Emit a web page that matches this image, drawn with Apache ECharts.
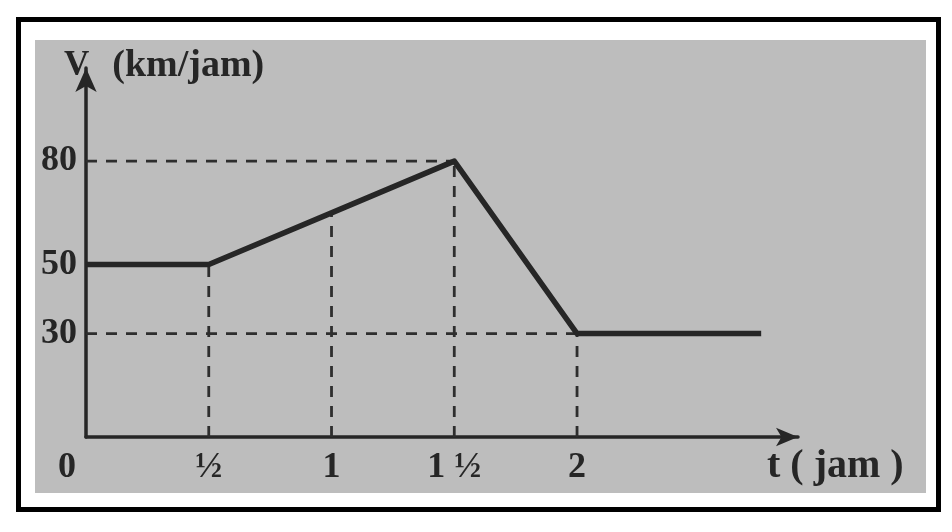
<!DOCTYPE html>
<html>
<head>
<meta charset="utf-8">
<script src="https://cdn.jsdelivr.net/npm/echarts@6/dist/echarts.min.js"></script>
<style>
html,body{margin:0;padding:0;background:#fff;}
#chart{width:952px;height:532px;}
</style>
</head>
<body>
<div id="chart"></div>
<script>
// Data
var tValues = [0, 0.5, 1, 1.5, 2, 2.75];
var vValues = [50, 50, 65, 80, 30, 30];
var xTickValues = [0, 0.5, 1, 1.5, 2];
var xTickLabels = ['0', '\u00BD', '1', '1 \u00BD', '2'];
var yTickValues = [30, 50, 80];
var yTickLabels = ['30', '50', '80'];
var yName = 'V (km/jam)';
var xName = 't ( jam )';

var ink = '#262626';
var font = '"Liberation Serif", "Times New Roman", serif';

var mainData = tValues.map(function (t, i) { return [t, vValues[i]]; });

// dashed guides derived from data
var guideSeries = [];
[1, 2, 3, 4].forEach(function (i) {
  guideSeries.push({
    type: 'line', silent: true, symbol: 'none', z: 1,
    lineStyle: { color: '#2e2e2e', width: 2.8, type: [11, 9] },
    data: [[tValues[i], 0], [tValues[i], vValues[i]]]
  });
});
[3, 4].forEach(function (i) {
  guideSeries.push({
    type: 'line', silent: true, symbol: 'none', z: 1,
    lineStyle: { color: '#2e2e2e', width: 2.8, type: [11, 9] },
    data: [[0, vValues[i]], [tValues[i], vValues[i]]]
  });
});

var nameParts = yName.split(' ');

var chart = echarts.init(document.getElementById('chart'), null, { renderer: 'canvas' });
chart.setOption({
  backgroundColor: '#ffffff',
  animation: false,
  graphic: [
    { type: 'rect', z: -10, silent: true,
      shape: { x: 18.5, y: 19.5, width: 920, height: 490 },
      style: { fill: null, stroke: '#000', lineWidth: 5 } },
    { type: 'rect', z: -9, silent: true,
      shape: { x: 35, y: 40, width: 891, height: 453 },
      style: { fill: '#bdbdbd' } }
  ],
  title: {
    text: '{v|' + nameParts[0] + '}{g|}{u|' + nameParts[1] + '}',
    left: 59, top: 42,
    textStyle: {
      rich: {
        v: { fontFamily: font, fontWeight: 'bold', fontSize: 35, color: ink },
        g: { width: 23 },
        u: { fontFamily: font, fontWeight: 'bold', fontSize: 38, color: ink }
      }
    }
  },
  grid: { left: 86, right: 154, top: 68, bottom: 95 },
  xAxis: {
    type: 'value', min: 0, max: 2.9,
    name: xName,
    nameLocation: 'end',
    nameGap: -31,
    nameTextStyle: {
      fontFamily: font, fontWeight: 'bold', fontSize: 40, color: ink,
      align: 'left', verticalAlign: 'top', padding: [10, 0, 0, 0]
    },
    axisLine: { show: true, onZero: false, symbol: ['none', 'arrow'], symbolSize: [14, 22],
      lineStyle: { color: ink, width: 3.5 } },
    axisTick: { show: false },
    splitLine: { show: false },
    axisLabel: {
      customValues: xTickValues,
      margin: 13,
      formatter: function (v) {
        var i = xTickValues.indexOf(v);
        var s = i >= 0 ? xTickLabels[i] : '';
        return v === 0 ? '{z|' + s + '}' : s;
      },
      fontFamily: font, fontWeight: 'bold', fontSize: 36, color: ink,
      rich: { z: { fontFamily: font, fontWeight: 'bold', fontSize: 36, color: ink, padding: [0, 38, 0, 0] } }
    }
  },
  yAxis: {
    type: 'value', min: 0, max: 107,
    axisLine: { show: true, onZero: false, symbol: ['none', 'arrow'], symbolSize: [16, 24],
      lineStyle: { color: ink, width: 3.5 } },
    axisTick: { show: false },
    splitLine: { show: false },
    axisLabel: {
      customValues: yTickValues,
      margin: 9,
      formatter: function (v) {
        var i = yTickValues.indexOf(v);
        return i >= 0 ? yTickLabels[i] : '';
      },
      fontFamily: font, fontWeight: 'bold', fontSize: 36, color: ink
    }
  },
  series: guideSeries.concat([{
    type: 'line', symbol: 'none', z: 3,
    lineStyle: { color: ink, width: 5.5, join: 'round' },
    data: mainData
  }])
});
</script>
</body>
</html>
